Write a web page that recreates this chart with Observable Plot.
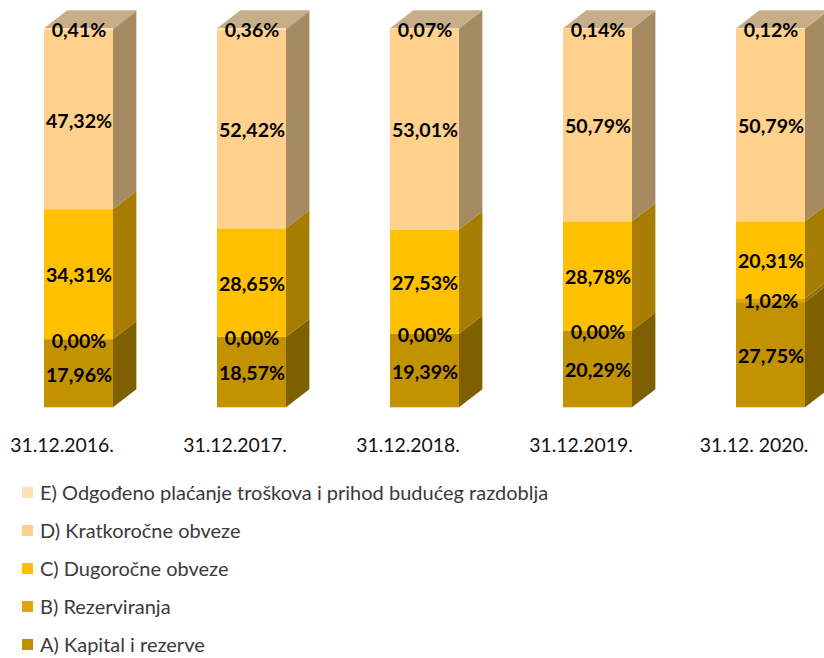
<!DOCTYPE html>
<html>
<head>
<meta charset="utf-8">
<script src="https://cdn.jsdelivr.net/npm/d3@7"></script>
<script src="https://cdn.jsdelivr.net/npm/@observablehq/plot@0.6"></script>
<style>
  body { margin: 0; background: #fff; font-family: Lato, "Open Sans", sans-serif; }
  #chart svg { display: block; }
  #legend { margin-top: 3px; }
  .row { height: 38px; display: flex; align-items: center; padding-left: 22px; font-size: 20px; color: #3a3a3a; }
  .sw { width: 11px; height: 11px; margin-right: 7px; flex: none; }
</style>
</head>
<body>
<div id="chart"></div>
<div id="legend"></div>
<script>
const categories = ["31.12.2016.", "31.12.2017.", "31.12.2018.", "31.12.2019.", "31.12. 2020."];
const seriesNames = ["A) Kapital i rezerve", "B) Rezerviranja", "C) Dugoročne obveze", "D) Kratkoročne obveze", "E) Odgođeno plaćanje troškova i prihod budućeg razdoblja"];
const kapital      = [17.96, 18.57, 19.39, 20.29, 27.75];
const rezerviranja = [0.00, 0.00, 0.00, 0.00, 1.02];
const dugorocne    = [34.31, 28.65, 27.53, 28.78, 20.31];
const kratkorocne  = [47.32, 52.42, 53.01, 50.79, 50.79];
const odgodeno     = [0.41, 0.36, 0.07, 0.14, 0.12];

const frontColors  = ["#C29200", "#DDA600", "#FFC000", "#FFD18C", "#FFDDB2"];
const sideColors   = ["#7F6000", "#937000", "#A67D00", "#A68A62", "#A88F6E"];
const topColor = "#C7AD88";
const swatchColors = ["#BF9000", "#DFA800", "#FFC000", "#FFCF8E", "#FFE0B8"];

const series = [kapital, rezerviranja, dugorocne, kratkorocne, odgodeno];
const hw = 0.1994;   // half front width (x units)
const dx = 0.135;    // depth offset x (x units)
const dz = 4.75;     // depth offset y (% units)

const rows = [];
categories.forEach((c, i) => {
  let acc = 0;
  series.forEach((vals, s) => {
    const v = vals[i];
    rows.push({i, s, v, lo: acc, hi: acc + v});
    acc += v;
  });
});

const sidePts = rows.flatMap(r => [
  {id: r.i + "-" + r.s, x: r.i + hw, y1: r.lo, y2: r.hi, fill: sideColors[r.s]},
  {id: r.i + "-" + r.s, x: r.i + hw + dx, y1: r.lo + dz, y2: r.hi + dz, fill: sideColors[r.s]}
]);
const topRows = rows.filter(r => r.s === series.length - 1);
const topPts = topRows.flatMap(r => [
  {id: "t" + r.i, y: r.hi, xa: r.i - hw, xb: r.i + hw},
  {id: "t" + r.i, y: r.hi + dz, xa: r.i - hw + dx, xb: r.i + hw + dx}
]);

const fmt = v => v.toFixed(2).replace(".", ",") + "%";

const plot = Plot.plot({
  width: 824,
  height: 470,
  marginLeft: 0,
  marginRight: 0,
  marginTop: 28.3,
  marginBottom: 62.7,
  x: {domain: [-0.4538, 4.3092], axis: null},
  y: {domain: [0, 100], axis: null},
  color: {type: "identity"},
  style: {fontFamily: "Lato, 'Open Sans', sans-serif", background: "#fff"},
  marks: [
    Plot.area(sidePts, {x1: "x", y1: "y1", y2: "y2", z: "id", fill: "fill"}),
    Plot.areaX(topPts, {y: "y", x1: "xa", x2: "xb", z: "id", fill: topColor}),
    Plot.rect(rows, {x1: d => d.i - hw, x2: d => d.i + hw, y1: "lo", y2: "hi", fill: d => frontColors[d.s]}),
    Plot.text(rows, {x: "i", y: d => (d.lo + d.hi) / 2, dy: 1.5, text: d => fmt(d.v), fontWeight: "bold", fontSize: 19.6, fill: "#000"}),
    Plot.axisX([0, 1, 2, 3, 4], {tickFormat: i => categories[i], tickSize: 0, tickPadding: 30, dx: -17, fontSize: 19.4, fill: "#111"})
  ]
});
document.getElementById("chart").append(plot);

const legend = document.getElementById("legend");
for (let s = seriesNames.length - 1; s >= 0; s--) {
  const row = document.createElement("div");
  row.className = "row";
  const sw = document.createElement("span");
  sw.className = "sw";
  sw.style.background = swatchColors[s];
  const t = document.createElement("span");
  t.textContent = seriesNames[s];
  row.append(sw, t);
  legend.append(row);
}
</script>
</body>
</html>
